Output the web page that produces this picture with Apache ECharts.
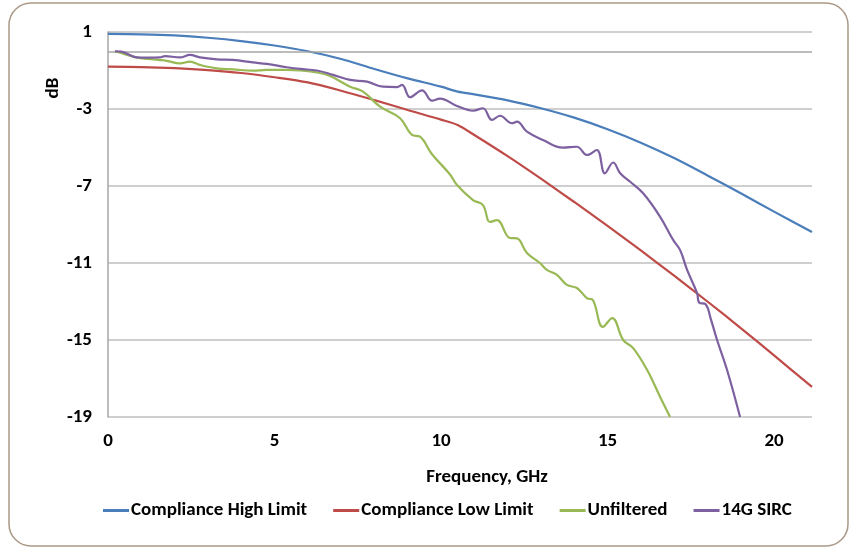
<!DOCTYPE html>
<html>
<head>
<meta charset="utf-8">
<script src="https://cdn.jsdelivr.net/npm/echarts@6/dist/echarts.min.js"></script>
<style>
  html, body { margin: 0; padding: 0; background: #ffffff; }
  #chart { width: 850px; height: 550px; }
</style>
</head>
<body>
<div id="chart"></div>
<script>
// Frequency response: compliance mask and two measured channels
const seriesNames = ['Compliance High Limit', 'Compliance Low Limit', 'Unfiltered', '14G SIRC'];
const seriesColors = ['#4a7ebb', '#be4b48', '#98b954', '#7d60a0'];

const highFreq = [0, 1, 2, 3, 4, 5, 6, 7, 8, 9, 10, 10.5, 11, 12, 13, 14, 15, 16, 17, 18, 19, 20, 21.14];
const highDb   = [0.9, 0.88, 0.82, 0.7, 0.53, 0.3, 0.0, -0.4, -0.92, -1.41, -1.84, -2.1, -2.24, -2.55, -2.96, -3.45, -4.05, -4.75, -5.55, -6.45, -7.38, -8.33, -9.39];

const lowFreq = [0, 1, 2, 3, 4, 5, 6, 7, 8, 9, 10, 10.5, 11, 12, 13, 14, 15, 16, 17, 18, 19, 20, 21.14];
const lowDb   = [-0.8, -0.82, -0.88, -0.98, -1.13, -1.35, -1.62, -2.05, -2.54, -3.05, -3.55, -3.83, -4.35, -5.45, -6.62, -7.83, -9.07, -10.35, -11.66, -13.0, -14.38, -15.8, -17.44];

const unfilteredFreq = [0.21, 0.5, 0.87, 1.2, 1.5, 1.77, 2.16, 2.46, 2.76, 3.27, 3.75, 4.35, 4.77, 5.37, 5.77, 6.27, 6.67, 7.27, 7.66, 8.17, 8.77, 9.13, 9.37, 9.73, 10.27, 10.48, 10.96, 11.26, 11.47, 11.68, 12.07, 12.28, 12.58, 12.97, 13.18, 13.48, 13.78, 14.08, 14.38, 14.56, 14.86, 15.14, 15.47, 15.77, 16.19, 16.58, 16.88];
const unfilteredDb   = [0.0, -0.15, -0.33, -0.4, -0.45, -0.5, -0.63, -0.54, -0.71, -0.89, -0.94, -1.01, -0.97, -0.97, -1.0, -1.1, -1.29, -1.84, -2.1, -2.88, -3.48, -4.35, -4.44, -5.35, -6.4, -6.95, -7.73, -7.99, -8.87, -8.77, -9.7, -9.72, -10.48, -11.0, -11.36, -11.62, -12.14, -12.3, -12.82, -12.92, -14.32, -13.86, -15.0, -15.42, -16.56, -17.96, -19.0];

const sircFreq = [0.21, 0.4, 0.87, 1.2, 1.56, 1.71, 2.16, 2.46, 2.76, 3.27, 3.75, 4.35, 4.77, 5.37, 5.77, 6.27, 6.76, 7.27, 7.78, 8.26, 8.68, 8.83, 9.07, 9.43, 9.73, 9.97, 10.48, 10.96, 11.26, 11.53, 11.77, 12.13, 12.28, 12.58, 13.06, 13.66, 14.08, 14.38, 14.68, 14.92, 15.17, 15.38, 15.68, 16.07, 16.58, 16.97, 17.18, 17.39, 17.69, 17.75, 17.95, 18.1, 18.29, 18.59, 18.98];
const sircDb   = [0.0, -0.02, -0.32, -0.33, -0.32, -0.25, -0.32, -0.19, -0.32, -0.42, -0.45, -0.58, -0.66, -0.83, -0.92, -1.0, -1.23, -1.49, -1.58, -1.84, -1.86, -1.75, -2.39, -2.03, -2.57, -2.46, -2.84, -3.09, -2.96, -3.57, -3.35, -3.74, -3.66, -4.18, -4.61, -5.01, -4.96, -5.39, -5.13, -6.34, -5.78, -6.34, -6.78, -7.38, -8.6, -9.8, -10.33, -11.36, -12.57, -13.05, -13.15, -13.9, -15.0, -16.56, -19.0];

const xTicks = [0, 5, 10, 15, 20];
const yTicks = [-19, -15, -11, -7, -3, 1];

const FONT = "Carlito, Lato, sans-serif";

function pairs(xs, ys) { return xs.map((x, i) => [x, ys[i]]); }

const curves = [
  { x: highFreq, y: highDb, smooth: 0.3 },
  { x: lowFreq, y: lowDb, smooth: 0.3 },
  { x: unfilteredFreq, y: unfilteredDb, smooth: 0.4 },
  { x: sircFreq, y: sircDb, smooth: 0.4 }
];

const chart = echarts.init(document.getElementById('chart'), null, { renderer: 'canvas' });

chart.setOption({
  backgroundColor: '#ffffff',
  animation: false,
  grid: { left: 108, right: 38, top: 32, bottom: 133, containLabel: false },
  xAxis: {
    type: 'value',
    min: xTicks[0],
    max: 21.14,
    interval: 5,
    axisLine: { show: false },
    axisTick: { show: false },
    splitLine: { show: false },
    axisLabel: {
      showMaxLabel: false,
      margin: 15,
      color: '#000', fontFamily: FONT, fontWeight: 'bold', fontSize: 19,
      formatter: v => (xTicks.indexOf(v) >= 0 ? String(v) : '')
    }
  },
  yAxis: {
    type: 'value',
    min: yTicks[0],
    max: yTicks[yTicks.length - 1],
    interval: 4,
    axisLine: { show: true, lineStyle: { color: '#a6a6a6', width: 1.5 } },
    axisTick: { show: false },
    splitLine: { show: true, lineStyle: { color: '#bfbfbf', width: 1.5 } },
    axisLabel: {
      margin: 16,
      color: '#000', fontFamily: FONT, fontWeight: 'bold', fontSize: 19
    }
  },
  legend: {
    left: 98, top: 496,
    icon: 'rect', itemWidth: 26, itemHeight: 3, itemGap: 26,
    textStyle: { color: '#000', fontFamily: FONT, fontWeight: 'bold', fontSize: 19, padding: [0, 0, 0, -3] },
    data: seriesNames
  },
  graphic: [
    { type: 'rect', shape: { x: 9, y: 3, width: 839, height: 543, r: 22 },
      style: { fill: 'none', stroke: '#ab9988', lineWidth: 1.5 }, silent: true, z: -1 },
    { type: 'text', x: 487, y: 477,
      style: { text: 'Frequency, GHz', fill: '#000', font: 'bold 19px ' + FONT, align: 'center', verticalAlign: 'middle' } },
    { type: 'text', x: 53, y: 88, rotation: Math.PI / 2,
      style: { text: 'dB', fill: '#000', font: 'bold 19px ' + FONT, align: 'center', verticalAlign: 'middle' } }
  ],
  series: curves.map((c, i) => ({
    name: seriesNames[i],
    type: 'line',
    data: pairs(c.x, c.y),
    smooth: c.smooth,
    showSymbol: false,
    clip: true,
    lineStyle: { color: seriesColors[i], width: 2.2 },
    itemStyle: { color: seriesColors[i] },
    z: 3 + i,
    markLine: i === 0 ? {
      silent: true, symbol: 'none', label: { show: false },
      lineStyle: { color: '#a6a6a6', width: 1.5, type: 'solid' },
      data: [{ yAxis: 0 }]
    } : undefined
  }))
});
</script>
</body>
</html>
